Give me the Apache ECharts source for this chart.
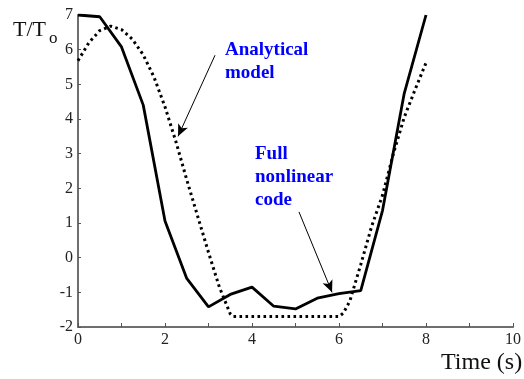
<!DOCTYPE html>
<html>
<head>
<meta charset="utf-8">
<script src="https://cdn.jsdelivr.net/npm/echarts@6/dist/echarts.min.js"></script>
<style>
html,body{margin:0;padding:0;background:#fff;}
#c{width:524px;height:379px;}
</style>
</head>
<body>
<div id="c"></div>
<script>
// Full nonlinear code (solid)
var timeSolid = [0, 0.5, 1, 1.5, 2, 2.5, 3, 3.5, 4, 4.5, 5, 5.5, 6, 6.5, 7, 7.5, 8];
var valuesSolid = [7, 6.95, 6.08, 4.4, 1.06, -0.6, -1.42, -1.06, -0.85, -1.4, -1.48, -1.17, -1.04, -0.95, 1.36, 4.74, 7.0];
// Analytical model (dotted)
var timeDotted = [0, 0.25, 0.5, 0.75, 1, 1.25, 1.5, 1.75, 2, 2.25, 2.5, 2.75, 3, 3.25, 3.5, 3.57, 6, 6.1, 6.25, 6.5, 6.75, 7, 7.25, 7.5, 7.75, 8];
var valuesDotted = [5.68, 6.2, 6.55, 6.68, 6.58, 6.3, 5.85, 5.2, 4.35, 3.35, 2.25, 1.2, 0.15, -0.85, -1.62, -1.7, -1.7, -1.6, -1.25, -0.2, 0.9, 1.8, 3.0, 4.05, 4.85, 5.62];
// Annotation arrows (data coordinates): [fromX, fromY, toX, toY]
var arrowAnalytical = [3.15, 5.84, 2.30, 3.50];
var arrowFull = [5.08, 1.32, 5.84, -1.0];

function pairs(xs, ys){ return xs.map(function(x,i){ return [x, ys[i]]; }); }

var serif = '"Liberation Serif","Times New Roman",serif';
var chart = echarts.init(document.getElementById('c'), null, {renderer:'canvas'});
chart.setOption({
  animation: false,
  backgroundColor: '#fff',
  grid: {left: 78, right: 7, top: 15, bottom: 52, containLabel: false},
  xAxis: {
    type: 'value', min: 0, max: 10, interval: 1,
    axisLine: {show: true, onZero: false, lineStyle: {color: '#6e6e6e', width: 2}},
    axisTick: {show: true, inside: true, length: 4, lineStyle: {color: '#555', width: 1}},
    axisLabel: {
      margin: 5, color: '#222', fontFamily: serif, fontSize: 16,
      formatter: function(v){ return (Math.round(v) % 2 === 0) ? String(v) : ''; }
    },
    splitLine: {show: false}
  },
  yAxis: {
    type: 'value', min: -2, max: 7, interval: 1,
    axisLine: {show: true, onZero: false, lineStyle: {color: '#6e6e6e', width: 2}},
    axisTick: {show: true, inside: true, length: 3, lineStyle: {color: '#555', width: 1}},
    axisLabel: {margin: 5, color: '#222', fontFamily: serif, fontSize: 16},
    splitLine: {show: false}
  },
  series: [
    {
      type: 'line', data: pairs(timeDotted, valuesDotted), symbol: 'none',
      lineStyle: {color: '#000', width: 3, type: [2.6, 3.4], cap: 'butt'},
      markLine: {
        silent: true, symbol: ['none', 'arrow'], symbolSize: [8, 12],
        label: {show: false},
        lineStyle: {color: '#000', width: 1, type: 'solid'},
        data: [
          [{coord: [arrowAnalytical[0], arrowAnalytical[1]]}, {coord: [arrowAnalytical[2], arrowAnalytical[3]]}],
          [{coord: [arrowFull[0], arrowFull[1]]}, {coord: [arrowFull[2], arrowFull[3]]}]
        ]
      }
    },
    {
      type: 'line', data: pairs(timeSolid, valuesSolid), symbol: 'none',
      lineStyle: {color: '#000', width: 2.8}
    }
  ],
  graphic: [
    {type: 'text', x: 13, y: 30, style: {text: 'T/T', font: '22px ' + serif, fill: '#111', verticalAlign: 'middle'}},
    {type: 'text', x: 49, y: 39, style: {text: 'o', font: '17px ' + serif, fill: '#111', verticalAlign: 'middle'}},
    {type: 'text', x: 441, y: 363, style: {text: 'Time (s)', font: '24px ' + serif, fill: '#111', verticalAlign: 'middle'}},
    {type: 'text', x: 225, y: 50, style: {text: 'Analytical', font: 'bold 19px ' + serif, fill: '#0000ff', verticalAlign: 'middle'}},
    {type: 'text', x: 225, y: 73.5, style: {text: 'model', font: 'bold 19px ' + serif, fill: '#0000ff', verticalAlign: 'middle'}},
    {type: 'text', x: 255, y: 154.5, style: {text: 'Full', font: 'bold 19px ' + serif, fill: '#0000ff', verticalAlign: 'middle'}},
    {type: 'text', x: 255, y: 177.5, style: {text: 'nonlinear', font: 'bold 19px ' + serif, fill: '#0000ff', verticalAlign: 'middle'}},
    {type: 'text', x: 255, y: 200.5, style: {text: 'code', font: 'bold 19px ' + serif, fill: '#0000ff', verticalAlign: 'middle'}}
  ]
});
</script>
</body>
</html>
